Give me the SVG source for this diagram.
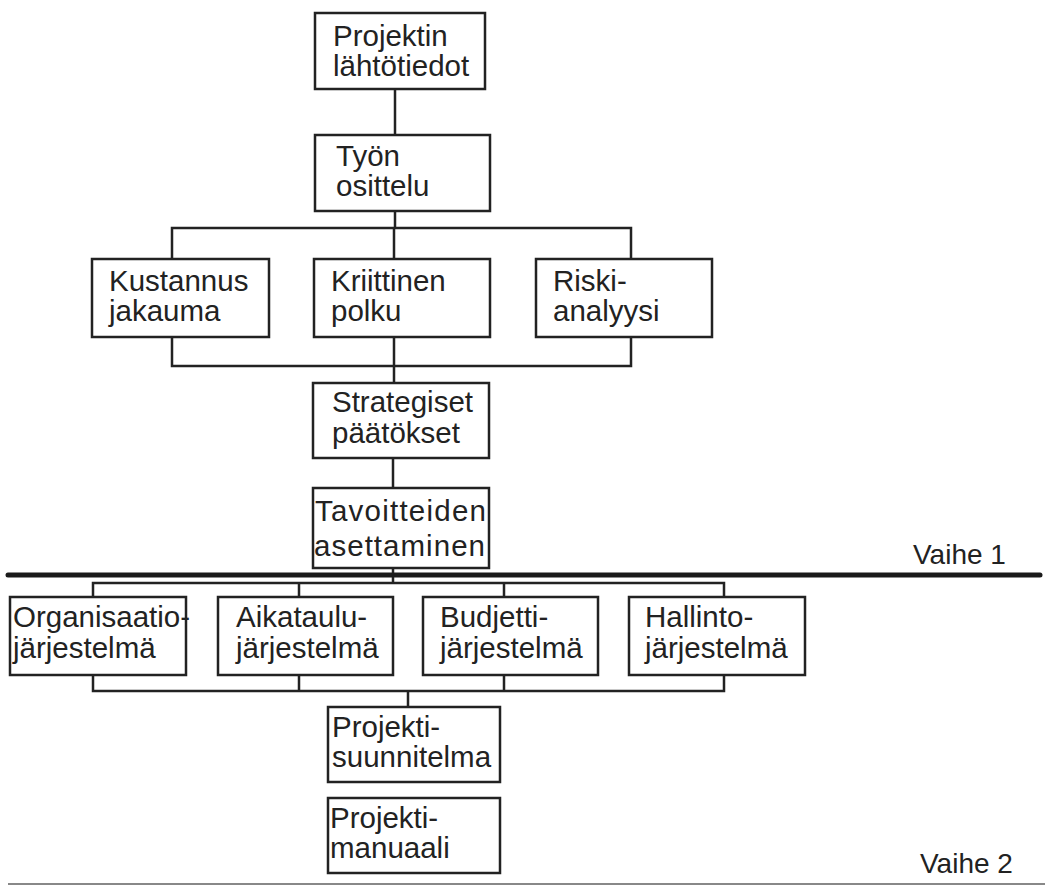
<svg xmlns="http://www.w3.org/2000/svg" width="1050" height="887" viewBox="0 0 1050 887">
  <style>
    .box { fill: #fff; stroke: #222; stroke-width: 2.5; }
    .lbl { font-family: "Liberation Sans", Arial, sans-serif; font-size: 29.5px; fill: #222; }
    .phase { font-family: "Liberation Sans", Arial, sans-serif; font-size: 28px; fill: #222; }
    .wire { fill: none; stroke: #222; stroke-width: 2.5; }
  </style>
  <rect width="1050" height="887" fill="#fff"/>

  <!-- connectors -->
  <g id="connectors" class="wire">
    <path d="M395 89V135"/>
    <path d="M395 211V228"/>
    <path d="M172 259V228H631V259M394 228V259"/>
    <path d="M172 337V366H631V337M394 337V383"/>
    <path d="M393 458V488"/>
    <path d="M393 568V583"/>
    <path d="M93 597V583H724V597M299 583V597M504 583V597"/>
    <path d="M93 675V691H724V675M299 675V691M504 675V691M408 691V707"/>
  </g>

  <!-- phase separators -->
  <g id="phases">
    <line x1="8" y1="575" x2="1040" y2="575" stroke="#1a1a1a" stroke-width="5" stroke-linecap="round"/>
    <text class="phase" x="913" y="564">Vaihe 1</text>
    <line x1="8" y1="884" x2="1045" y2="884" stroke="#888" stroke-width="2"/>
    <text class="phase" x="920" y="873">Vaihe 2</text>
  </g>

  <g id="lahtotiedot">
    <rect class="box" x="315" y="13" width="170" height="76"/>
    <text class="lbl" x="333" y="46">Projektin</text>
    <text class="lbl" x="333" y="76">lähtötiedot</text>
  </g>
  <g id="osittelu">
    <rect class="box" x="315" y="135" width="175" height="76"/>
    <text class="lbl" x="336" y="166">Työn</text>
    <text class="lbl" x="336" y="196">osittelu</text>
  </g>
  <g id="kustannus">
    <rect class="box" x="92" y="259" width="177" height="78"/>
    <text class="lbl" x="109" y="291">Kustannus</text>
    <text class="lbl" x="109" y="321">jakauma</text>
  </g>
  <g id="kriittinen">
    <rect class="box" x="314" y="259" width="176" height="78"/>
    <text class="lbl" x="331" y="291">Kriittinen</text>
    <text class="lbl" x="331" y="321">polku</text>
  </g>
  <g id="riski">
    <rect class="box" x="536" y="259" width="176" height="78"/>
    <text class="lbl" x="553" y="291">Riski-</text>
    <text class="lbl" x="553" y="321">analyysi</text>
  </g>
  <g id="strategiset">
    <rect class="box" x="313" y="383" width="176" height="75"/>
    <text class="lbl" x="332" y="412">Strategiset</text>
    <text class="lbl" x="332" y="443">päätökset</text>
  </g>
  <g id="tavoitteet">
    <rect class="box" x="313" y="488" width="176" height="80"/>
    <text class="lbl" x="315" y="521" textLength="171" lengthAdjust="spacing">Tavoitteiden</text>
    <text class="lbl" x="314" y="556" textLength="171" lengthAdjust="spacing">asettaminen</text>
  </g>
  <g id="organisaatio">
    <rect class="box" x="10" y="597" width="176" height="78"/>
    <text class="lbl" x="13" y="627">Organisaatio-</text>
    <text class="lbl" x="13" y="658">järjestelmä</text>
  </g>
  <g id="aikataulu">
    <rect class="box" x="218" y="597" width="175" height="78"/>
    <text class="lbl" x="236" y="627">Aikataulu-</text>
    <text class="lbl" x="236" y="658">järjestelmä</text>
  </g>
  <g id="budjetti">
    <rect class="box" x="423" y="597" width="175" height="78"/>
    <text class="lbl" x="440" y="627">Budjetti-</text>
    <text class="lbl" x="440" y="658">järjestelmä</text>
  </g>
  <g id="hallinto">
    <rect class="box" x="629" y="597" width="176" height="78"/>
    <text class="lbl" x="645" y="627">Hallinto-</text>
    <text class="lbl" x="645" y="658">järjestelmä</text>
  </g>
  <g id="suunnitelma">
    <rect class="box" x="328" y="707" width="172" height="75"/>
    <text class="lbl" x="332" y="737">Projekti-</text>
    <text class="lbl" x="332" y="767">suunnitelma</text>
  </g>
  <g id="manuaali">
    <rect class="box" x="328" y="798" width="172" height="75"/>
    <text class="lbl" x="330" y="828">Projekti-</text>
    <text class="lbl" x="330" y="858">manuaali</text>
  </g>
</svg>
